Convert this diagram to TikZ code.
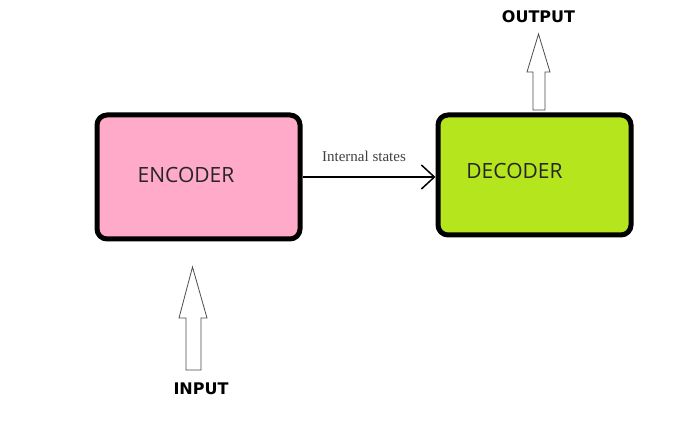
\documentclass[tikz,border=0pt]{standalone}
\usepackage{fontspec}
\setmainfont{Liberation Serif}
\newfontfamily\boxfont{Open Sans}
\newfontfamily\heavyfont{DejaVu Sans}
\usetikzlibrary{arrows.meta}
\definecolor{encpink}{RGB}{255,170,200}
\definecolor{declime}{RGB}{181,230,29}
\tikzset{
  blockbox/.style={draw=black, line width=5pt, rounded corners=10pt, inner sep=0pt},
  blocklabel/.style={font=\boxfont\fontsize{21}{24}\selectfont, text=black!85},
  ioLabel/.style={font=\heavyfont\bfseries\fontsize{16}{18}\selectfont},
  fatarrow/.style={draw=black!70, line width=0.8pt, fill=white, line join=miter},
}
\begin{document}
\begin{tikzpicture}[x=1pt,y=-1pt]
\useasboundingbox (0,0) rectangle (680,422);
% boxes
\node[blockbox, fill=encpink, minimum width=203pt, minimum height=124pt] (enc) at (198.5,177) {};
\node[blockbox, fill=declime, minimum width=193pt, minimum height=120pt] (dec) at (534.5,175) {};
\node[blocklabel] (enct) at (186,175) {ENCODER};
\node[blocklabel] (dect) at (514.5,171) {DECODER};
% connector
\draw[line width=1.5pt, -{Straight Barb[length=13pt,width=24pt,line width=1.5pt]}] (enc.east |- 0,177) coordinate (cs) -- (dec.west |- 0,177) coordinate (ce);
\node[font=\fontsize{15}{17}\selectfont, text=black!75] (lbl) at (364,156) {Internal states};
% input arrow
\coordinate (intip) at (192.5,267);
\draw[fatarrow] (intip) -- (207,318) -- (201,318) -- (201,370) -- (186,370) -- (186,318) -- (179,318) -- cycle;
\node[ioLabel] (inp) at (201,389) {INPUT};
% output arrow
\coordinate (outtip) at (538.5,34);
\draw[fatarrow] (outtip) -- (550,72) -- (545,72) -- (545,110) -- (533,110) -- (533,72) -- (527,72) -- cycle;
\node[ioLabel] (outp) at (538.5,17) {OUTPUT};
\end{tikzpicture}
\end{document}
